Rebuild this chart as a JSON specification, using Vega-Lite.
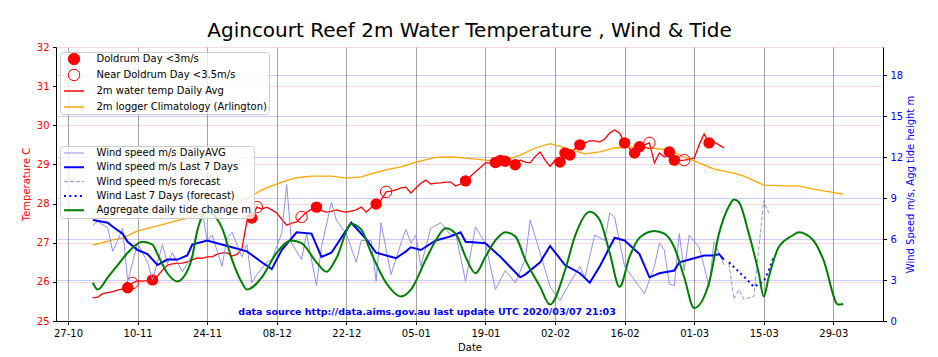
{
"$schema": "https://vega.github.io/schema/vega-lite/v6.json",
"width": 827, "height": 274,
"autosize": {"type": "none"},
"padding": {"left": 56, "top": 47, "right": 55, "bottom": 36},
"title": {"text": "Agincourt Reef 2m Water Temperature , Wind & Tide", "fontSize": 20, "font": "DejaVu Sans", "fontWeight": "normal", "anchor": "middle", "frame": "group", "baseline": "alphabetic", "offset": 9, "dy": 24, "color": "black"},
"config": {
  "font": "DejaVu Sans",
  "view": {"stroke": null},
  "axis": {"labelFont": "DejaVu Sans", "titleFont": "DejaVu Sans", "labelFontSize": 10, "titleFontSize": 10, "titleFontWeight": "normal", "tickSize": 3.5, "tickColor": "black", "domainColor": "black", "labelPadding": 3.5, "labelColor": "black", "titleColor": "black"}
},
"datasets": {
"temp": [
{"date":"2019-11-01","v":25.59},{"date":"2019-11-02","v":25.61},{"date":"2019-11-03","v":25.70},{"date":"2019-11-05","v":25.75},{"date":"2019-11-06","v":25.79},{"date":"2019-11-07","v":25.82},{"date":"2019-11-08","v":25.85},{"date":"2019-11-09","v":25.97},{"date":"2019-11-10","v":26.03},{"date":"2019-11-11","v":26.02},{"date":"2019-11-12","v":26.03},{"date":"2019-11-13","v":26.05},{"date":"2019-11-14","v":26.15},{"date":"2019-11-15","v":26.30},{"date":"2019-11-16","v":26.43},{"date":"2019-11-17","v":26.46},{"date":"2019-11-18","v":26.47},{"date":"2019-11-19","v":26.48},{"date":"2019-11-20","v":26.51},{"date":"2019-11-21","v":26.56},{"date":"2019-11-22","v":26.61},{"date":"2019-11-23","v":26.60},{"date":"2019-11-24","v":26.64},{"date":"2019-11-25","v":26.64},{"date":"2019-11-26","v":26.71},{"date":"2019-11-27","v":26.74},{"date":"2019-11-28","v":26.74},{"date":"2019-11-29","v":26.66},{"date":"2019-11-30","v":26.70},
{"date":"2019-12-01","v":26.85},{"date":"2019-12-02","v":27.55},{"date":"2019-12-03","v":27.63},{"date":"2019-12-04","v":27.91},{"date":"2019-12-05","v":27.86},{"date":"2019-12-06","v":27.91},{"date":"2019-12-07","v":27.84},{"date":"2019-12-08","v":27.76},{"date":"2019-12-09","v":27.60},{"date":"2019-12-10","v":27.45},{"date":"2019-12-11","v":27.50},{"date":"2019-12-12","v":27.53},{"date":"2019-12-13","v":27.66},{"date":"2019-12-14","v":27.78},{"date":"2019-12-15","v":27.85},{"date":"2019-12-16","v":27.91},{"date":"2019-12-17","v":27.82},{"date":"2019-12-18","v":27.78},{"date":"2019-12-19","v":27.80},{"date":"2019-12-20","v":27.84},{"date":"2019-12-21","v":27.80},{"date":"2019-12-22","v":27.78},{"date":"2019-12-23","v":27.81},{"date":"2019-12-24","v":27.84},{"date":"2019-12-25","v":27.91},{"date":"2019-12-26","v":27.78},{"date":"2019-12-27","v":27.90},{"date":"2019-12-28","v":27.99},{"date":"2019-12-29","v":28.09},{"date":"2019-12-30","v":28.30},{"date":"2019-12-31","v":28.32},
{"date":"2020-01-01","v":28.35},{"date":"2020-01-02","v":28.40},{"date":"2020-01-03","v":28.42},{"date":"2020-01-04","v":28.27},{"date":"2020-01-05","v":28.40},{"date":"2020-01-06","v":28.52},{"date":"2020-01-07","v":28.60},{"date":"2020-01-08","v":28.50},{"date":"2020-01-09","v":28.52},{"date":"2020-01-10","v":28.53},{"date":"2020-01-11","v":28.55},{"date":"2020-01-12","v":28.55},{"date":"2020-01-13","v":28.45},{"date":"2020-01-14","v":28.50},{"date":"2020-01-15","v":28.58},{"date":"2020-01-16","v":28.70},{"date":"2020-01-17","v":28.81},{"date":"2020-01-18","v":28.92},{"date":"2020-01-19","v":29.04},{"date":"2020-01-20","v":29.04},{"date":"2020-01-21","v":29.05},{"date":"2020-01-22","v":29.10},{"date":"2020-01-23","v":29.08},{"date":"2020-01-24","v":29.02},{"date":"2020-01-25","v":28.99},{"date":"2020-01-26","v":29.11},{"date":"2020-01-27","v":29.06},{"date":"2020-01-28","v":29.04},{"date":"2020-01-29","v":29.20},{"date":"2020-01-30","v":29.32},{"date":"2020-01-31","v":29.11},
{"date":"2020-02-01","v":28.95},{"date":"2020-02-02","v":29.11},{"date":"2020-02-03","v":29.06},{"date":"2020-02-04","v":29.29},{"date":"2020-02-05","v":29.24},{"date":"2020-02-06","v":29.40},{"date":"2020-02-07","v":29.50},{"date":"2020-02-08","v":29.55},{"date":"2020-02-09","v":29.60},{"date":"2020-02-10","v":29.60},{"date":"2020-02-11","v":29.57},{"date":"2020-02-12","v":29.65},{"date":"2020-02-13","v":29.80},{"date":"2020-02-14","v":29.88},{"date":"2020-02-15","v":29.80},{"date":"2020-02-16","v":29.55},{"date":"2020-02-17","v":29.40},{"date":"2020-02-18","v":29.29},{"date":"2020-02-19","v":29.45},{"date":"2020-02-20","v":29.50},{"date":"2020-02-21","v":29.55},{"date":"2020-02-22","v":29.04},{"date":"2020-02-23","v":29.29},{"date":"2020-02-24","v":29.19},{"date":"2020-02-25","v":29.32},{"date":"2020-02-26","v":29.11},{"date":"2020-02-27","v":29.10},{"date":"2020-02-28","v":29.11},{"date":"2020-02-29","v":29.13},
{"date":"2020-03-01","v":29.16},{"date":"2020-03-02","v":29.50},{"date":"2020-03-03","v":29.78},{"date":"2020-03-04","v":29.55},{"date":"2020-03-05","v":29.57},{"date":"2020-03-06","v":29.50},{"date":"2020-03-07","v":29.42}
],
"clim": [
{"date":"2019-11-01","v":26.94},{"date":"2019-11-05","v":27.07},{"date":"2019-11-07","v":27.12},{"date":"2019-11-10","v":27.30},{"date":"2019-11-14","v":27.43},{"date":"2019-11-17","v":27.53},{"date":"2019-11-20","v":27.63},{"date":"2019-11-25","v":27.84},{"date":"2019-12-02","v":28.12},{"date":"2019-12-05","v":28.35},{"date":"2019-12-09","v":28.55},{"date":"2019-12-12","v":28.66},{"date":"2019-12-15","v":28.70},{"date":"2019-12-19","v":28.70},{"date":"2019-12-22","v":28.65},{"date":"2019-12-25","v":28.68},{"date":"2019-12-27","v":28.76},{"date":"2019-12-30","v":28.86},{"date":"2020-01-02","v":28.94},{"date":"2020-01-05","v":29.06},{"date":"2020-01-09","v":29.18},{"date":"2020-01-12","v":29.19},{"date":"2020-01-15","v":29.16},{"date":"2020-01-19","v":29.11},{"date":"2020-01-21","v":29.09},{"date":"2020-01-23","v":29.11},{"date":"2020-01-26","v":29.24},{"date":"2020-01-29","v":29.42},{"date":"2020-02-01","v":29.53},{"date":"2020-02-04","v":29.42},{"date":"2020-02-08","v":29.27},{"date":"2020-02-11","v":29.32},{"date":"2020-02-14","v":29.42},{"date":"2020-02-18","v":29.45},{"date":"2020-02-21","v":29.42},{"date":"2020-02-25","v":29.37},{"date":"2020-02-28","v":29.19},{"date":"2020-03-02","v":29.04},{"date":"2020-03-05","v":28.88},{"date":"2020-03-09","v":28.78},{"date":"2020-03-11","v":28.70},{"date":"2020-03-15","v":28.47},{"date":"2020-03-19","v":28.45},{"date":"2020-03-22","v":28.45},{"date":"2020-03-25","v":28.37},{"date":"2020-03-31","v":28.24}
],
"dold": [
{"date":"2019-11-08","v":25.85},{"date":"2019-11-13","v":26.05},{"date":"2019-12-03","v":27.63},{"date":"2019-12-16","v":27.91},{"date":"2019-12-28","v":27.99},{"date":"2020-01-15","v":28.58},{"date":"2020-01-21","v":29.05},{"date":"2020-01-22","v":29.10},{"date":"2020-01-23","v":29.08},{"date":"2020-01-25","v":28.99},{"date":"2020-02-03","v":29.06},{"date":"2020-02-04","v":29.29},{"date":"2020-02-05","v":29.24},{"date":"2020-02-07","v":29.50},{"date":"2020-02-16","v":29.55},{"date":"2020-02-18","v":29.29},{"date":"2020-02-19","v":29.45},{"date":"2020-02-25","v":29.32},{"date":"2020-02-26","v":29.11},{"date":"2020-03-04","v":29.55}
],
"near": [
{"date":"2019-11-09","v":25.97},{"date":"2019-12-04","v":27.91},{"date":"2019-12-13","v":27.66},{"date":"2019-12-30","v":28.30},{"date":"2020-02-21","v":29.55},{"date":"2020-02-28","v":29.11}
],
"wind": [
{"date":"2019-11-01","v":7.0},{"date":"2019-11-02","v":7.3},{"date":"2019-11-04","v":6.8},{"date":"2019-11-05","v":5.1},{"date":"2019-11-06","v":5.9},{"date":"2019-11-07","v":6.8},{"date":"2019-11-08","v":2.9},{"date":"2019-11-10","v":5.7},{"date":"2019-11-11","v":5.0},{"date":"2019-11-12","v":4.3},{"date":"2019-11-13","v":3.0},{"date":"2019-11-15","v":5.6},{"date":"2019-11-16","v":4.2},{"date":"2019-11-17","v":5.0},{"date":"2019-11-19","v":3.6},{"date":"2019-11-21","v":4.8},{"date":"2019-11-23","v":8.1},{"date":"2019-11-24","v":5.9},{"date":"2019-11-25","v":6.3},{"date":"2019-11-27","v":4.0},{"date":"2019-11-28","v":6.1},{"date":"2019-11-29","v":6.5},
{"date":"2019-12-01","v":4.7},{"date":"2019-12-02","v":5.6},{"date":"2019-12-03","v":2.8},{"date":"2019-12-04","v":3.4},{"date":"2019-12-06","v":4.3},{"date":"2019-12-07","v":4.5},{"date":"2019-12-09","v":6.4},{"date":"2019-12-10","v":10.0},{"date":"2019-12-11","v":5.7},{"date":"2019-12-13","v":4.5},{"date":"2019-12-14","v":6.4},{"date":"2019-12-16","v":2.6},{"date":"2019-12-17","v":5.4},{"date":"2019-12-19","v":8.7},{"date":"2019-12-20","v":7.4},{"date":"2019-12-21","v":6.9},{"date":"2019-12-22","v":6.4},{"date":"2019-12-24","v":4.3},{"date":"2019-12-25","v":5.9},{"date":"2019-12-27","v":5.9},{"date":"2019-12-28","v":2.9},{"date":"2019-12-29","v":7.2},{"date":"2019-12-31","v":3.4},
{"date":"2020-01-02","v":5.7},{"date":"2020-01-03","v":6.7},{"date":"2020-01-04","v":5.7},{"date":"2020-01-05","v":6.3},{"date":"2020-01-06","v":4.0},{"date":"2020-01-08","v":6.8},{"date":"2020-01-10","v":7.2},{"date":"2020-01-12","v":6.3},{"date":"2020-01-13","v":6.4},{"date":"2020-01-15","v":2.9},{"date":"2020-01-17","v":6.9},{"date":"2020-01-19","v":5.7},{"date":"2020-01-21","v":2.3},{"date":"2020-01-23","v":3.7},{"date":"2020-01-25","v":2.8},{"date":"2020-01-27","v":4.5},{"date":"2020-01-28","v":7.4},{"date":"2020-01-30","v":5.0},
{"date":"2020-02-01","v":2.5},{"date":"2020-02-03","v":1.5},{"date":"2020-02-05","v":2.8},{"date":"2020-02-07","v":4.0},{"date":"2020-02-08","v":3.2},{"date":"2020-02-10","v":6.3},{"date":"2020-02-12","v":5.9},{"date":"2020-02-13","v":7.9},{"date":"2020-02-14","v":7.6},{"date":"2020-02-16","v":4.0},{"date":"2020-02-18","v":3.0},{"date":"2020-02-20","v":2.0},{"date":"2020-02-22","v":4.0},{"date":"2020-02-23","v":5.7},{"date":"2020-02-24","v":5.2},{"date":"2020-02-25","v":2.7},{"date":"2020-02-26","v":2.6},{"date":"2020-02-27","v":6.4},{"date":"2020-02-28","v":3.7},{"date":"2020-02-29","v":6.3},
{"date":"2020-03-02","v":5.4},{"date":"2020-03-03","v":4.0},{"date":"2020-03-04","v":2.5},{"date":"2020-03-05","v":5.8},{"date":"2020-03-06","v":5.0},{"date":"2020-03-07","v":4.1}
],
"wind7": [
{"date":"2019-11-01","v":7.4},{"date":"2019-11-04","v":7.2},{"date":"2019-11-05","v":6.9},{"date":"2019-11-07","v":6.4},{"date":"2019-11-08","v":5.8},{"date":"2019-11-10","v":5.2},{"date":"2019-11-12","v":4.9},{"date":"2019-11-14","v":4.1},{"date":"2019-11-16","v":4.5},{"date":"2019-11-18","v":4.5},{"date":"2019-11-20","v":4.8},{"date":"2019-11-21","v":5.6},{"date":"2019-11-24","v":5.9},{"date":"2019-11-26","v":5.7},{"date":"2019-11-29","v":5.4},{"date":"2019-12-02","v":5.1},{"date":"2019-12-05","v":4.3},{"date":"2019-12-07","v":3.8},{"date":"2019-12-09","v":5.2},{"date":"2019-12-12","v":6.5},{"date":"2019-12-15","v":6.4},{"date":"2019-12-17","v":4.7},{"date":"2019-12-19","v":5.0},{"date":"2019-12-23","v":7.2},{"date":"2019-12-26","v":6.0},{"date":"2019-12-28","v":5.0},{"date":"2019-12-31","v":4.7},{"date":"2020-01-01","v":4.6},{"date":"2020-01-03","v":5.1},{"date":"2020-01-04","v":5.4},{"date":"2020-01-06","v":5.2},{"date":"2020-01-09","v":5.9},{"date":"2020-01-12","v":6.2},{"date":"2020-01-14","v":6.5},{"date":"2020-01-15","v":5.8},{"date":"2020-01-19","v":5.7},{"date":"2020-01-22","v":4.7},{"date":"2020-01-26","v":3.2},{"date":"2020-01-27","v":3.4},{"date":"2020-01-30","v":4.3},{"date":"2020-02-01","v":5.5},{"date":"2020-02-04","v":4.1},{"date":"2020-02-07","v":3.5},{"date":"2020-02-09","v":2.8},{"date":"2020-02-11","v":4.0},{"date":"2020-02-14","v":6.1},{"date":"2020-02-16","v":5.9},{"date":"2020-02-19","v":4.9},{"date":"2020-02-21","v":3.2},{"date":"2020-02-23","v":3.5},{"date":"2020-02-26","v":3.7},{"date":"2020-02-27","v":4.3},{"date":"2020-03-01","v":4.6},{"date":"2020-03-03","v":4.8},{"date":"2020-03-05","v":4.8},{"date":"2020-03-06","v":4.9},{"date":"2020-03-07","v":4.5}
],
"windfc": [
{"date":"2020-03-08","v":4.2},{"date":"2020-03-09","v":1.6},{"date":"2020-03-10","v":2.3},{"date":"2020-03-11","v":1.6},{"date":"2020-03-13","v":1.8},{"date":"2020-03-15","v":8.8},{"date":"2020-03-16","v":7.9}
],
"wind7fc": [
{"date":"2020-03-08","v":4.3},{"date":"2020-03-10","v":3.6},{"date":"2020-03-12","v":2.9},{"date":"2020-03-13","v":2.5},{"date":"2020-03-15","v":2.9},{"date":"2020-03-16","v":3.7},{"date":"2020-03-17","v":4.7}
],
"tide": [
{"date":"2019-11-01","v":2.8},{"date":"2019-11-02","v":2.3},{"date":"2019-11-04","v":3.2},{"date":"2019-11-06","v":4.1},{"date":"2019-11-08","v":5.0},{"date":"2019-11-11","v":5.8},{"date":"2019-11-13","v":5.6},{"date":"2019-11-14","v":4.9},{"date":"2019-11-16","v":3.5},{"date":"2019-11-18","v":2.9},{"date":"2019-11-19","v":3.1},{"date":"2019-11-21","v":4.7},{"date":"2019-11-22","v":6.6},{"date":"2019-11-24","v":8.0},{"date":"2019-11-27","v":6.8},{"date":"2019-11-29","v":4.5},{"date":"2019-12-01","v":2.8},{"date":"2019-12-02","v":2.3},{"date":"2019-12-05","v":3.2},{"date":"2019-12-08","v":5.0},{"date":"2019-12-11","v":5.9},{"date":"2019-12-13","v":5.7},{"date":"2019-12-16","v":4.3},{"date":"2019-12-18","v":3.6},{"date":"2019-12-20","v":4.6},{"date":"2019-12-23","v":7.1},{"date":"2019-12-25","v":6.7},{"date":"2019-12-27","v":5.0},{"date":"2019-12-30","v":2.8},{"date":"2020-01-02","v":1.8},{"date":"2020-01-04","v":2.3},{"date":"2020-01-07","v":4.5},{"date":"2020-01-09","v":5.9},{"date":"2020-01-11","v":6.8},{"date":"2020-01-13","v":6.4},{"date":"2020-01-15","v":4.7},{"date":"2020-01-17","v":3.5},{"date":"2020-01-19","v":4.7},{"date":"2020-01-21","v":5.9},{"date":"2020-01-23","v":6.5},{"date":"2020-01-25","v":6.2},{"date":"2020-01-27","v":4.5},{"date":"2020-01-30","v":2.5},{"date":"2020-02-01","v":1.2},{"date":"2020-02-04","v":3.7},{"date":"2020-02-06","v":6.2},{"date":"2020-02-09","v":8.0},{"date":"2020-02-11","v":7.4},{"date":"2020-02-13","v":5.0},{"date":"2020-02-15","v":2.5},{"date":"2020-02-17","v":4.7},{"date":"2020-02-19","v":6.1},{"date":"2020-02-22","v":6.6},{"date":"2020-02-24","v":6.4},{"date":"2020-02-26","v":5.4},{"date":"2020-02-28","v":3.2},{"date":"2020-03-01","v":0.95},{"date":"2020-03-04","v":2.8},{"date":"2020-03-06","v":6.4},{"date":"2020-03-08","v":8.4},{"date":"2020-03-09","v":8.9},{"date":"2020-03-10","v":8.7},{"date":"2020-03-12","v":6.4},{"date":"2020-03-14","v":3.5},{"date":"2020-03-15","v":1.8},{"date":"2020-03-16","v":3.2},{"date":"2020-03-18","v":5.4},{"date":"2020-03-21","v":6.3},{"date":"2020-03-22","v":6.5},{"date":"2020-03-25","v":5.9},{"date":"2020-03-27","v":4.5},{"date":"2020-03-30","v":1.2},{"date":"2020-03-31","v":1.25}
]
},
"layer": [
  {
    "encoding": {
      "x": {"field": "date", "type": "temporal",
        "scale": {"type": "utc", "domain": [{"year":2019,"month":10,"date":24,"hours":14,"utc":true},{"year":2020,"month":4,"date":8,"utc":true}]},
        "axis": {"title": "Date", "format": "%d-%m", "labelOverlap": false, "labelFlush": false, "labelBound": false, "grid": true, "gridColor": "#8c8c8c", "gridOpacity": 0.8, "titlePadding": 4,
          "values": [
            {"year":2019,"month":10,"date":27,"utc":true},{"year":2019,"month":11,"date":3,"utc":true},{"year":2019,"month":11,"date":10,"utc":true},{"year":2019,"month":11,"date":17,"utc":true},{"year":2019,"month":11,"date":24,"utc":true},{"year":2019,"month":12,"date":1,"utc":true},{"year":2019,"month":12,"date":8,"utc":true},{"year":2019,"month":12,"date":15,"utc":true},{"year":2019,"month":12,"date":22,"utc":true},{"year":2019,"month":12,"date":29,"utc":true},
            {"year":2020,"month":1,"date":5,"utc":true},{"year":2020,"month":1,"date":12,"utc":true},{"year":2020,"month":1,"date":19,"utc":true},{"year":2020,"month":1,"date":26,"utc":true},{"year":2020,"month":2,"date":2,"utc":true},{"year":2020,"month":2,"date":9,"utc":true},{"year":2020,"month":2,"date":16,"utc":true},{"year":2020,"month":2,"date":23,"utc":true},{"year":2020,"month":3,"date":1,"utc":true},{"year":2020,"month":3,"date":8,"utc":true},{"year":2020,"month":3,"date":15,"utc":true},{"year":2020,"month":3,"date":22,"utc":true},{"year":2020,"month":3,"date":29,"utc":true},{"year":2020,"month":4,"date":5,"utc":true}
          ]}
      },
      "y": {"field": "v", "type": "quantitative", "scale": {"domain": [25, 32], "nice": false, "zero": false},
        "axis": {"orient": "left", "title": "Temperature  C", "titleColor": "red", "labelColor": "red", "values": [25,26,27,28,29,30,31,32], "format": "d", "grid": true, "gridColor": "#ff0000", "gridOpacity": 0.15, "titlePadding": 5}}
    },
    "layer": [
      {"data": {"name": "temp"}, "mark": {"type": "line", "strokeWidth": 1.3},
       "encoding": {"color": {"datum": "2m water temp Daily Avg",
         "scale": {"domain": ["Doldrum Day <3m/s", "Near Doldrum Day <3.5m/s", "2m water temp Daily Avg", "2m logger Climatology (Arlington)"], "range": ["red", "red", "red", "orange"]},
         "legend": {"orient": "none", "legendX": 4, "legendY": 5, "title": null, "symbolType": "stroke", "symbolSize": 150, "symbolOffset": 7, "labelOffset": 17.5, "labelLimit": 300, "labelFont": "DejaVu Sans", "labelFontSize": 10, "labelColor": "black", "padding": 2, "rowPadding": 0, "gridAlign": "all", "fillColor": "rgba(255,255,255,0.8)", "strokeColor": "#cccccc", "cornerRadius": 3,
           "encoding": {"symbols": {
             "shape": {"value": {"expr": "datum.value === 'Doldrum Day <3m/s' || datum.value === 'Near Doldrum Day <3.5m/s' ? 'circle' : 'stroke'"}},
             "size": {"value": {"expr": "datum.value === 'Doldrum Day <3m/s' || datum.value === 'Near Doldrum Day <3.5m/s' ? 130 : 400"}},
             "fill": {"value": {"expr": "datum.value === 'Doldrum Day <3m/s' ? 'red' : 'transparent'"}},
             "strokeWidth": {"value": {"expr": "datum.value === 'Doldrum Day <3m/s' || datum.value === 'Near Doldrum Day <3.5m/s' ? 1 : 1.5"}}
           }}}}}},
      {"data": {"name": "clim"}, "mark": {"type": "line", "strokeWidth": 1.3}, "encoding": {"color": {"datum": "2m logger Climatology (Arlington)"}}},
      {"data": {"name": "dold"}, "mark": {"type": "point", "filled": true, "shape": "circle", "size": 130, "opacity": 1, "color": "red"}},
      {"data": {"name": "near"}, "mark": {"type": "point", "filled": false, "shape": "circle", "size": 130, "strokeWidth": 1, "opacity": 1, "color": "red"}}
    ]
  },
  {
    "encoding": {
      "x": {"field": "date", "type": "temporal",
        "scale": {"type": "utc", "domain": [{"year":2019,"month":10,"date":24,"hours":14,"utc":true},{"year":2020,"month":4,"date":8,"utc":true}]},
        "axis": {"title": "Date", "format": "%d-%m", "labelOverlap": false, "labelFlush": false, "labelBound": false, "grid": true, "gridColor": "#8c8c8c", "gridOpacity": 0.8, "titlePadding": 4,
          "values": [
            {"year":2019,"month":10,"date":27,"utc":true},{"year":2019,"month":11,"date":3,"utc":true},{"year":2019,"month":11,"date":10,"utc":true},{"year":2019,"month":11,"date":17,"utc":true},{"year":2019,"month":11,"date":24,"utc":true},{"year":2019,"month":12,"date":1,"utc":true},{"year":2019,"month":12,"date":8,"utc":true},{"year":2019,"month":12,"date":15,"utc":true},{"year":2019,"month":12,"date":22,"utc":true},{"year":2019,"month":12,"date":29,"utc":true},
            {"year":2020,"month":1,"date":5,"utc":true},{"year":2020,"month":1,"date":12,"utc":true},{"year":2020,"month":1,"date":19,"utc":true},{"year":2020,"month":1,"date":26,"utc":true},{"year":2020,"month":2,"date":2,"utc":true},{"year":2020,"month":2,"date":9,"utc":true},{"year":2020,"month":2,"date":16,"utc":true},{"year":2020,"month":2,"date":23,"utc":true},{"year":2020,"month":3,"date":1,"utc":true},{"year":2020,"month":3,"date":8,"utc":true},{"year":2020,"month":3,"date":15,"utc":true},{"year":2020,"month":3,"date":22,"utc":true},{"year":2020,"month":3,"date":29,"utc":true},{"year":2020,"month":4,"date":5,"utc":true}
          ]}
      },
      "y": {"field": "v", "type": "quantitative", "scale": {"domain": [0, 20.07], "nice": false, "zero": true},
        "axis": {"orient": "right", "title": "Wind Speed m/s, Agg tide height m", "titleColor": "blue", "labelColor": "blue", "values": [0,3,6,9,12,15,18], "format": "d", "grid": true, "gridColor": "#0000ff", "gridOpacity": 0.2, "titlePadding": 3, "titleAngle": 270, "titleBaseline": "top"}}
    },
    "layer": [
      {"data": {"name": "wind"}, "mark": {"type": "line", "strokeWidth": 1},
       "encoding": {"color": {"datum": "Wind speed m/s DailyAVG",
         "scale": {"domain": ["Wind speed m/s DailyAVG", "Wind speed m/s Last 7 Days", "Wind speed m/s forecast", "Wind Last 7 Days (forecast)", "Aggregate daily tide change m"], "range": ["#9090f0", "blue", "#9090f0", "blue", "green"]},
         "legend": {"orient": "none", "legendX": 4, "legendY": 99, "title": null, "symbolType": "stroke", "symbolSize": 150, "symbolOffset": 7, "labelOffset": 17.5, "labelLimit": 300, "labelFont": "DejaVu Sans", "labelFontSize": 10, "labelColor": "black", "padding": 2, "rowPadding": 4.3, "gridAlign": "all", "fillColor": "rgba(255,255,255,0.8)", "strokeColor": "#cccccc", "cornerRadius": 3,
           "encoding": {"symbols": {
             "size": {"value": 400},
             "strokeWidth": {"value": {"expr": "datum.value === 'Wind speed m/s DailyAVG' || datum.value === 'Wind speed m/s forecast' ? 1 : 2"}},
             "strokeDash": {"value": {"expr": "datum.value === 'Wind speed m/s forecast' ? [4, 2] : (datum.value === 'Wind Last 7 Days (forecast)' ? [2, 3.3] : [1, 0])"}}
           }}}}}},
      {"data": {"name": "wind7"}, "mark": {"type": "line", "strokeWidth": 2}, "encoding": {"color": {"datum": "Wind speed m/s Last 7 Days"}}},
      {"data": {"name": "windfc"}, "mark": {"type": "line", "strokeWidth": 1, "strokeDash": [4, 2]}, "encoding": {"color": {"datum": "Wind speed m/s forecast"}}},
      {"data": {"name": "wind7fc"}, "mark": {"type": "line", "strokeWidth": 2, "strokeDash": [2, 3.3]}, "encoding": {"color": {"datum": "Wind Last 7 Days (forecast)"}}},
      {"data": {"name": "tide"}, "mark": {"type": "line", "strokeWidth": 2, "interpolate": "monotone"}, "encoding": {"color": {"datum": "Aggregate daily tide change m"}}}
    ]
  },
  {
    "data": {"values": [{}]},
    "mark": {"type": "text", "fontWeight": "bold", "fontSize": 9.5, "align": "center", "baseline": "middle"},
    "encoding": {
      "x": {"datum": {"year":2020,"month":1,"date":7,"hours":6,"utc":true}, "type": "temporal"},
      "y": {"datum": 0.66, "type": "quantitative", "scale": {"domain": [0, 20.07], "nice": false, "zero": true}, "axis": null},
      "text": {"value": "data source http://data.aims.gov.au last update UTC 2020/03/07 21:03"},
      "color": {"value": "blue"}
    }
  }
],
"resolve": {"scale": {"y": "independent", "color": "independent"}}
}
